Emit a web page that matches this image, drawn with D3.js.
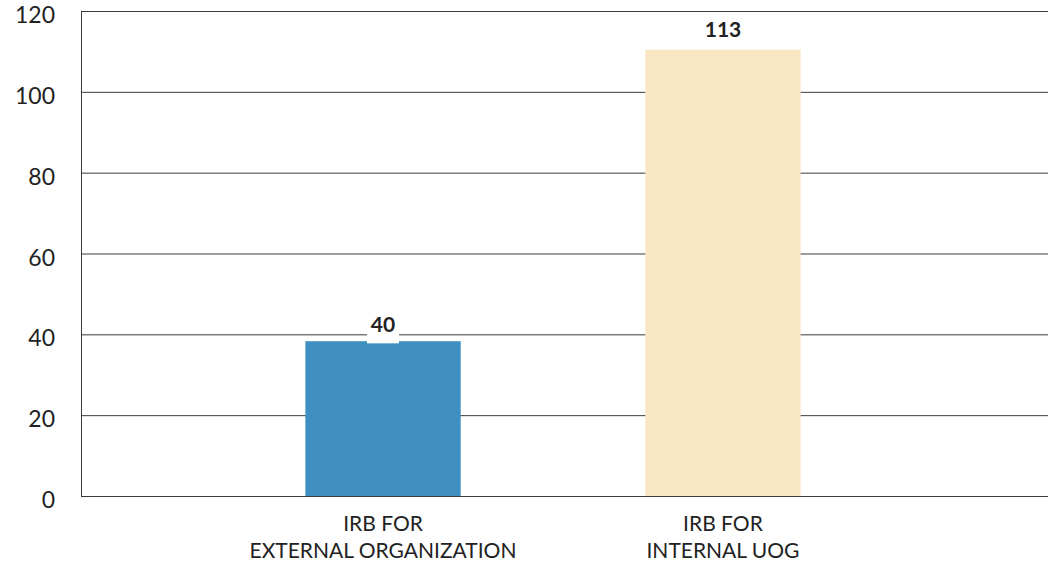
<!DOCTYPE html>
<html>
<head>
<meta charset="utf-8">
<script src="https://cdn.jsdelivr.net/npm/d3@7"></script>
<style>
  body { margin: 0; background: #fff; }
  text { font-family: Lato, "Open Sans", sans-serif; fill: #222; }
</style>
</head>
<body>
<div id="chart"></div>
<script>
// data
var categories = [["IRB FOR", "EXTERNAL ORGANIZATION"], ["IRB FOR", "INTERNAL UOG"]];
var barValues = [38.3, 110.4];   // drawn bar heights
var labelValues = [40, 113];     // printed value labels
var barColors = ["#3f90c0", "#f9e7c4"];
var yTicks = [0, 20, 40, 60, 80, 100, 120];

var width = 1048,
    height = 568;

var svg = d3.select("#chart").append("svg")
    .attr("width", width)
    .attr("height", height);

var plotLeft = 81, plotRight = 1048, plotTop = 11, plotBottom = 496;

var y = d3.scaleLinear().domain([0, 120]).range([plotBottom, plotTop]);
var x = d3.scaleBand()
    .domain(d3.range(categories.length))
    .range([plotLeft, 1025])
    .paddingInner(0.543)
    .paddingOuter(0.66);

// gridlines
svg.append("g").selectAll("line")
    .data(yTicks)
    .enter().append("line")
    .attr("x1", plotLeft)
    .attr("x2", plotRight)
    .attr("y1", function(d) { return y(d) + 0.5; })
    .attr("y2", function(d) { return y(d) + 0.5; })
    .attr("stroke", "#3a3a3a")
    .attr("stroke-width", 1);

// left axis line
svg.append("line")
    .attr("x1", plotLeft + 0.5).attr("x2", plotLeft + 0.5)
    .attr("y1", y(120)).attr("y2", y(0) + 1)
    .attr("stroke", "#3a3a3a");

// tick labels
svg.append("g").selectAll("text")
    .data(yTicks)
    .enter().append("text")
    .attr("x", 55)
    .attr("y", function(d) { return y(d) + 12; })
    .attr("text-anchor", "end")
    .style("font-size", "23px")
    .text(function(d) { return d; });

// bars
svg.append("g").selectAll("rect")
    .data(barValues)
    .enter().append("rect")
    .attr("x", function(d, i) { return x(i); })
    .attr("width", x.bandwidth())
    .attr("y", function(d) { return y(d); })
    .attr("height", function(d) { return y(0) - y(d); })
    .attr("fill", function(d, i) { return barColors[i]; });

// value labels with white backing box
var lab = svg.append("g").selectAll("g")
    .data(labelValues)
    .enter().append("g")
    .attr("transform", function(d, i) {
        return "translate(" + (x(i) + x.bandwidth() / 2) + "," + (y(d) - 9) + ")";
    });

lab.append("rect")
    .attr("x", function(d) { return -String(d).length * 7.5 - 1; })
    .attr("width", function(d) { return String(d).length * 15 + 2; })
    .attr("y", -8)
    .attr("height", 26)
    .attr("fill", "#fff");

lab.append("text")
    .attr("text-anchor", "middle")
    .attr("y", 7)
    .style("font-size", "21px")
    .style("font-weight", "bold")
    .text(function(d) { return d; });

// category labels
var cat = svg.append("g").selectAll("text")
    .data(categories)
    .enter().append("text")
    .attr("text-anchor", "middle")
    .attr("x", function(d, i) { return x(i) + x.bandwidth() / 2; })
    .attr("y", 531)
    .style("font-size", "21px");

cat.selectAll("tspan")
    .data(function(d) { return d; })
    .enter().append("tspan")
    .attr("x", function() { return d3.select(this.parentNode).attr("x"); })
    .attr("dy", function(d, i) { return i === 0 ? 0 : 27; })
    .text(function(d) { return d; });
</script>
</body>
</html>
